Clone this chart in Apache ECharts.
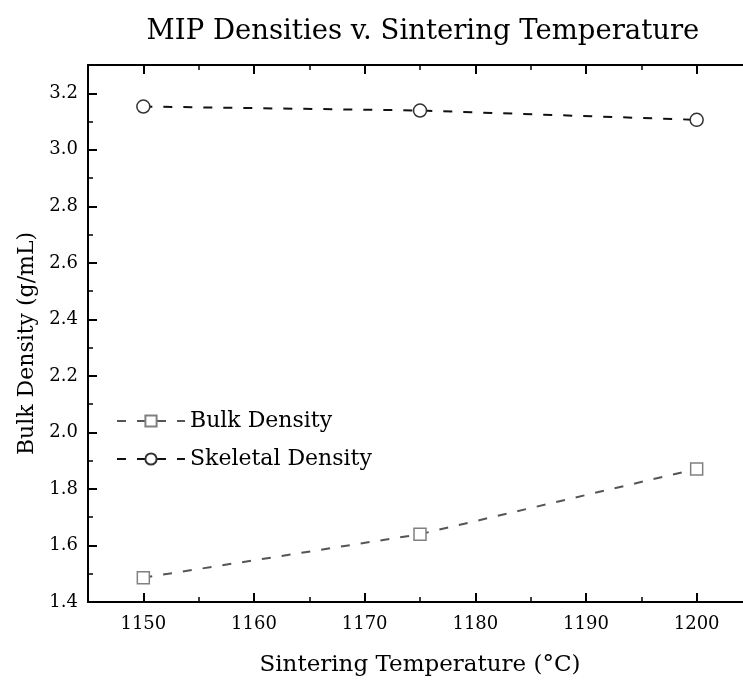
<!DOCTYPE html>
<html>
<head>
<meta charset="utf-8">
<style>
  html, body { margin: 0; padding: 0; background: #ffffff; overflow: hidden; }
  #chart { width: 743px; height: 685px; }
</style>
<script src="https://cdn.jsdelivr.net/npm/echarts@6/dist/echarts.min.js"></script>
</head>
<body>
<div id="chart"></div>
<script>
// ---- data ----
const titleText = 'MIP Densities v. Sintering Temperature';
const xAxisName = 'Sintering Temperature (°C)';
const yAxisName = 'Bulk Density (g/mL)';
const temperatures = [1150, 1175, 1200];
const bulkDensity = [1.486, 1.640, 1.871];
const skeletalDensity = [3.153, 3.139, 3.106];
const seriesNames = ['Bulk Density', 'Skeletal Density'];
const xRange = [1145, 1205];
const yRange = [1.4, 3.3];

const FONT = 'DejaVu Serif';
const chart = echarts.init(document.getElementById('chart'), null, { renderer: 'canvas' });

function pairs(xs, ys) { return xs.map((x, i) => [x, ys[i]]); }

const gridBox = { left: 88, width: 664, top: 65, bottom: 83, containLabel: false, outerBoundsMode: 'none' };

const hidden = { show: false };
function majorX(pos, labels) {
  return {
    type: 'value', position: pos, min: xRange[0], max: xRange[1], splitNumber: 6,
    axisLine: { show: true, onZero: false, lineStyle: { color: '#000', width: 2 } },
    axisTick: { show: true, inside: true, length: 9, lineStyle: { color: '#000', width: 2 } },
    axisLabel: labels ? { show: true, margin: 13, color: '#000', fontFamily: FONT, fontSize: 18,
      showMinLabel: false, showMaxLabel: false, hideOverlap: false, formatter: v => String(v) } : hidden,
    splitLine: hidden,
    name: labels ? xAxisName : '', nameLocation: 'middle', nameGap: 52, nameMoveOverlap: false,
    nameTextStyle: { color: '#000', fontFamily: FONT, fontSize: 23 }
  };
}
function minorX(pos) {
  return {
    type: 'value', position: pos, min: xRange[0], max: xRange[1], interval: 5,
    axisLine: { show: false, onZero: false },
    axisTick: { show: true, inside: true, length: 5, lineStyle: { color: '#000', width: 1.5 } },
    axisLabel: hidden, splitLine: hidden
  };
}
function majorY(pos, labels) {
  return {
    type: 'value', position: pos, min: yRange[0], max: yRange[1], interval: 0.2,
    axisLine: { show: true, onZero: false, lineStyle: { color: '#000', width: 2 } },
    axisTick: { show: true, inside: true, length: 9, lineStyle: { color: '#000', width: 2 } },
    axisLabel: labels ? { show: true, margin: 10, color: '#000', fontFamily: FONT, fontSize: 18, showMaxLabel: false,
      formatter: v => v.toFixed(1) } : hidden,
    splitLine: hidden,
    name: labels ? yAxisName : '', nameLocation: 'middle', nameGap: 48,
    nameTextStyle: { color: '#000', fontFamily: FONT, fontSize: 22, padding: [0, 20, 0, 0] }
  };
}
function minorY(pos) {
  return {
    type: 'value', position: pos, min: yRange[0], max: yRange[1], interval: 0.1,
    axisLine: { show: false, onZero: false },
    axisTick: { show: true, inside: true, length: 5, lineStyle: { color: '#000', width: 1.5 } },
    axisLabel: hidden, splitLine: hidden
  };
}

const option = {
  backgroundColor: '#ffffff',
  animation: false,
  title: {
    text: titleText, left: 423, top: 18, textAlign: 'center', padding: 0,
    textStyle: { color: '#000', fontFamily: FONT, fontSize: 27.5, fontWeight: 'normal' }
  },
  legend: {
    orient: 'vertical', left: 116, top: 410, itemWidth: 68, itemHeight: 14, itemGap: 16,
    padding: 0,
    textStyle: { color: '#000', fontFamily: FONT, fontSize: 22 },
    data: seriesNames
  },
  grid: gridBox,
  xAxis: [majorX('bottom', true), minorX('bottom'), majorX('top', false), minorX('top')],
  yAxis: [majorY('left', true), minorY('left'), majorY('right', false), minorY('right')],
  series: [
    {
      name: seriesNames[0], type: 'line', xAxisIndex: 0, yAxisIndex: 0,
      data: pairs(temperatures, bulkDensity),
      symbol: 'rect', symbolSize: 12,
      lineStyle: { color: '#555555', width: 2, type: [9, 11] },
      itemStyle: { color: '#ffffff', borderColor: '#808080', borderWidth: 1.5 }
    },
    {
      name: seriesNames[1], type: 'line', xAxisIndex: 0, yAxisIndex: 0,
      data: pairs(temperatures, skeletalDensity),
      symbol: 'circle', symbolSize: 13,
      lineStyle: { color: '#111111', width: 2, type: [9, 11] },
      itemStyle: { color: '#ffffff', borderColor: '#333333', borderWidth: 1.5 }
    }
  ]
};
chart.setOption(option);
</script>
</body>
</html>
